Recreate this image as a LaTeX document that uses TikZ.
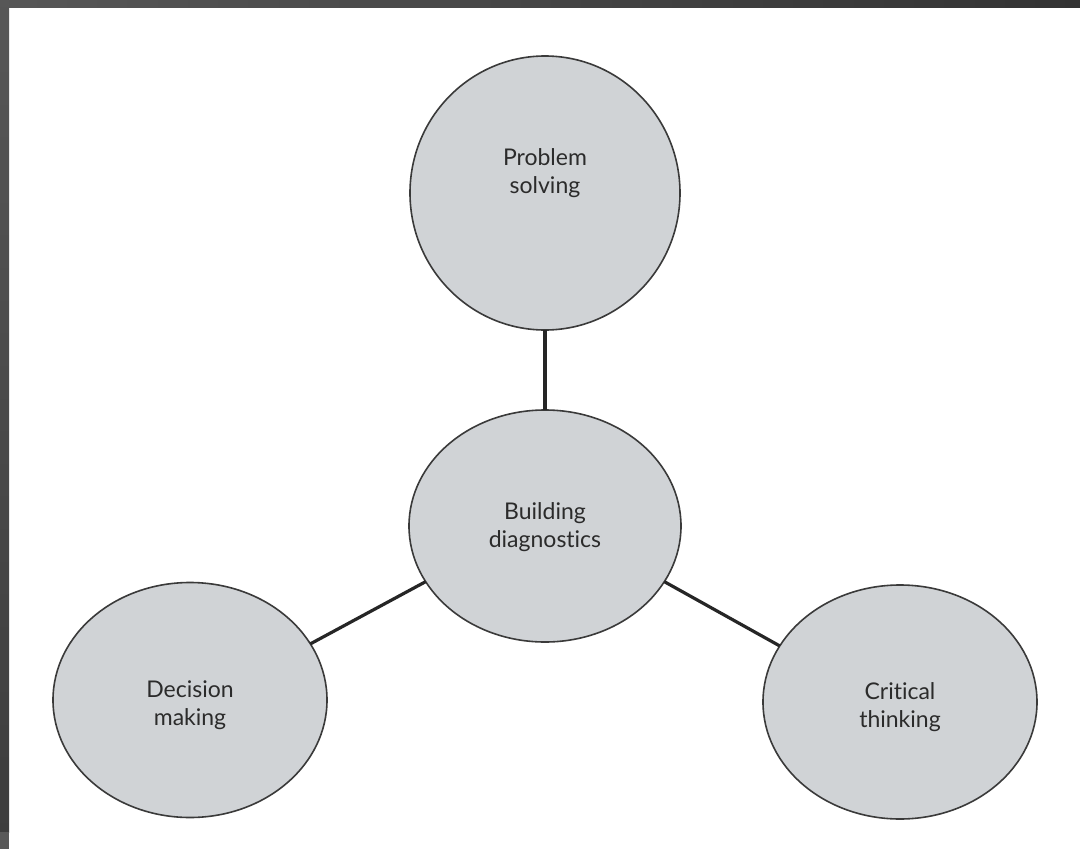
\documentclass[tikz,border=0pt]{standalone}
\usepackage{fontspec}
\setmainfont{Lato}[Ligatures=CommonOff]
\usepackage{xcolor}
\usepackage{tikz}
\usetikzlibrary{positioning, shapes.geometric}

\definecolor{bubblefill}{HTML}{D0D3D6}
\definecolor{bubbleline}{HTML}{3A3A3A}
\definecolor{textgray}{HTML}{2B2B2B}

\begin{document}
\begin{tikzpicture}[
			x=1pt, y=-1pt,
			font=\fontsize{23}{28}\selectfont,
			bubble/.style={
				draw=bubbleline,
				fill=bubblefill,
				ellipse,
				line width=1.6pt,
				inner sep=0pt,
				outer sep=0pt,
				align=center,
				text=textgray
			},
			link/.style={line width=3.2pt, draw=black!85}
			]
			
			% -------------------------------
			% FRAME
			% -------------------------------
			\useasboundingbox (0,0) rectangle (1080,849);
			\fill[white] (0,0) rectangle (1080,849);
			\shade[left color=black!66, right color=black!80] (0,0) rectangle (1080,7);
			\shade[top color=black!66, bottom color=black!76] (0,0) rectangle (9,832);
			\fill[black!65] (0,832) rectangle (9,849);
			
			% -------------------------------
			% CENTRE
			% -------------------------------
			\node[bubble, minimum width=272pt, minimum height=232pt,
				text height=42pt, text depth=0pt] (diag) at (545,526) {Building\\diagnostics};
			
			% -------------------------------
			% SATELLITES
			% -------------------------------
			\node[bubble, minimum width=270pt, minimum height=274pt,
				text height=10pt, text depth=10pt, above=80pt of diag] (prob) {Problem\\solving};
			\node[bubble, minimum width=274pt, minimum height=235pt,
				text height=50pt, text depth=0pt] (dec) at (190,700) {Decision\\making};
			\node[bubble, minimum width=274pt, minimum height=234pt,
				text height=50pt, text depth=0pt] (crit) at (900,702) {Critical\\thinking};
			
			% -------------------------------
			% LINKS
			% -------------------------------
			\draw[link] (diag.north) -- (prob.south);
			\draw[link] (diag.205) -- (dec.25);
			\draw[link] (diag.335) -- (crit.155);
			
		\end{tikzpicture}
\end{document}
